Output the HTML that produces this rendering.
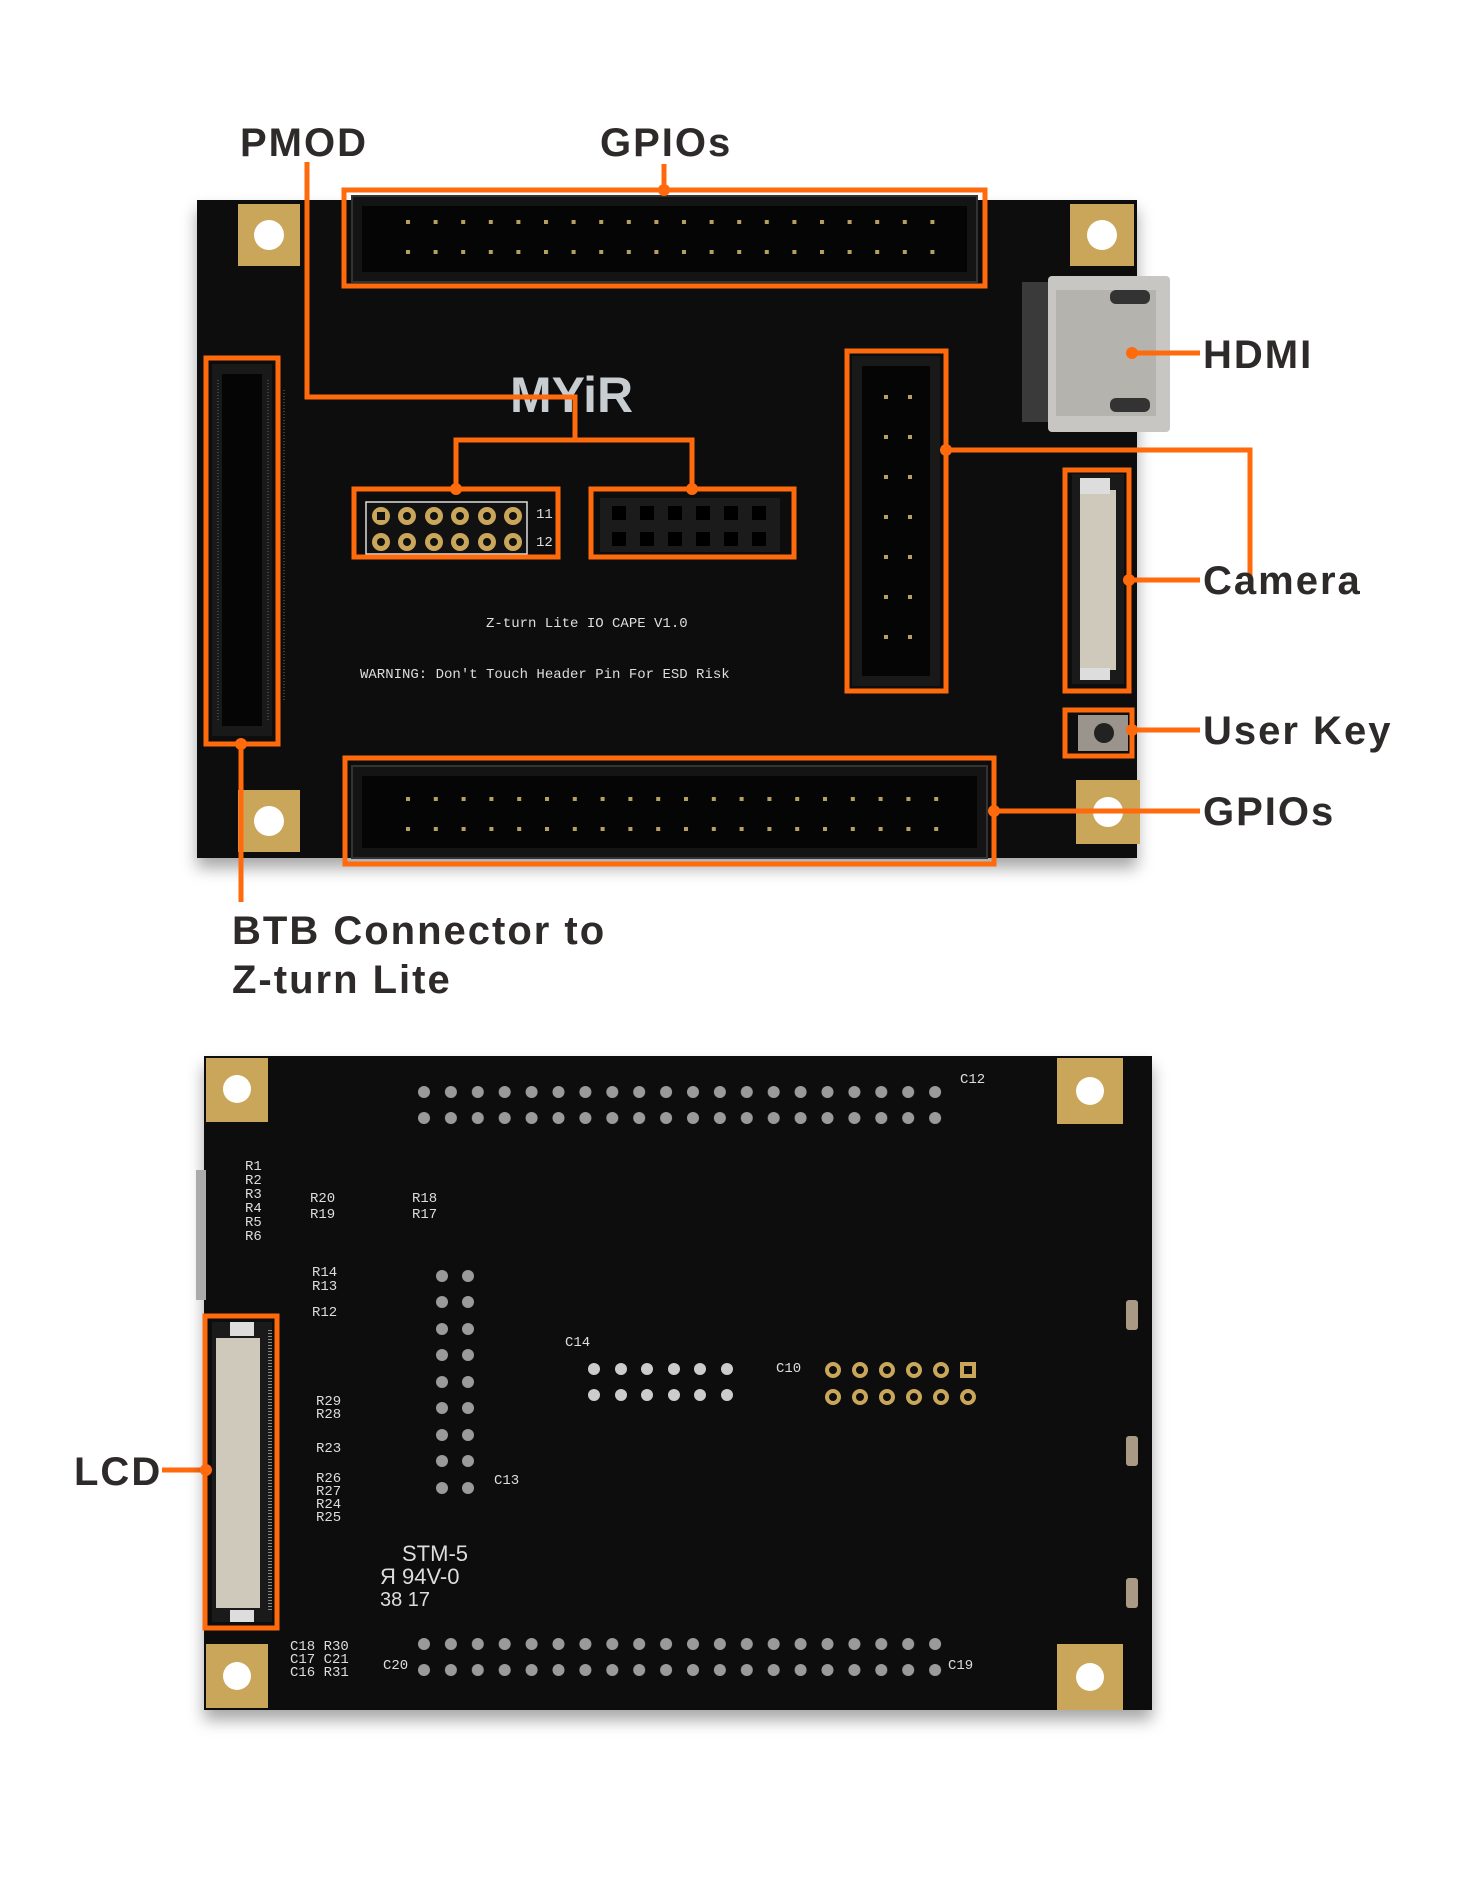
<!DOCTYPE html>
<html><head><meta charset="utf-8"><style>
html,body{margin:0;padding:0;background:#fff}
body{width:1464px;height:1889px;overflow:hidden}
svg{display:block}
.lbl{font-family:"Liberation Sans",sans-serif;font-weight:bold;font-size:40px;fill:#2e2a2a;letter-spacing:2px}
.sm{font-family:"Liberation Mono",monospace;fill:#ddd;font-size:14px}
</style></head><body>
<svg width="1464" height="1889" viewBox="0 0 1464 1889" xmlns="http://www.w3.org/2000/svg">
<defs>
<filter id="sh" x="-5%" y="-5%" width="110%" height="115%"><feDropShadow dx="0" dy="10" stdDeviation="8" flood-color="#000" flood-opacity="0.35"/></filter>
<pattern id="pinT" x="406" y="220" width="27.6" height="30" patternUnits="userSpaceOnUse"><rect x="0" y="0" width="4" height="4" fill="#b8a060"/></pattern>
<pattern id="pinB" x="406" y="797" width="27.8" height="30" patternUnits="userSpaceOnUse"><rect x="0" y="0" width="4" height="4" fill="#b8a060"/></pattern>
<pattern id="pinH1" x="418" y="1086" width="26.9" height="26" patternUnits="userSpaceOnUse"><circle cx="6" cy="6" r="6" fill="#9a9a9a"/></pattern>
<pattern id="pinH2" x="418" y="1638" width="26.9" height="26" patternUnits="userSpaceOnUse"><circle cx="6" cy="6" r="6" fill="#9a9a9a"/></pattern>
</defs>
<rect x="197" y="200" width="940" height="658" fill="#0c0b0b" filter="url(#sh)"/>
<g fill="#c9a65a">
<rect x="238" y="204" width="62" height="62"/><rect x="1070" y="204" width="64" height="62"/>
<rect x="238" y="790" width="62" height="62"/><rect x="1076" y="780" width="64" height="64"/>
</g>
<g fill="#fff">
<circle cx="269" cy="235" r="15"/><circle cx="1102" cy="235" r="15"/><circle cx="269" cy="821" r="15"/><circle cx="1108" cy="812" r="15"/>
</g>
<rect x="352" y="196" width="625" height="86" fill="#151414" stroke="#333" stroke-width="2"/>
<rect x="362" y="206" width="605" height="66" fill="#050505"/>
<rect x="406" y="220" width="530" height="36" fill="url(#pinT)"/>
<rect x="352" y="766" width="635" height="92" fill="#151414" stroke="#333" stroke-width="2"/>
<rect x="362" y="776" width="615" height="72" fill="#050505"/>
<rect x="406" y="797" width="535" height="36" fill="url(#pinB)"/>
<rect x="212" y="364" width="60" height="372" fill="#1a1919"/>
<rect x="222" y="374" width="40" height="352" fill="#050505"/>
<g stroke="#6a6a6a" stroke-width="1">
<line x1="218" y1="380" x2="218" y2="720" stroke-dasharray="1 2"/><line x1="268" y1="380" x2="268" y2="720" stroke-dasharray="1 2"/>
<line x1="284" y1="390" x2="284" y2="700" stroke-dasharray="1 2"/>
</g>
<rect x="852" y="356" width="88" height="330" fill="#1a1919"/>
<rect x="862" y="366" width="68" height="310" fill="#050505"/>
<g fill="#b8a060">
<rect x="884" y="395" width="4" height="4"/><rect x="908" y="395" width="4" height="4"/>
<rect x="884" y="435" width="4" height="4"/><rect x="908" y="435" width="4" height="4"/>
<rect x="884" y="475" width="4" height="4"/><rect x="908" y="475" width="4" height="4"/>
<rect x="884" y="515" width="4" height="4"/><rect x="908" y="515" width="4" height="4"/>
<rect x="884" y="555" width="4" height="4"/><rect x="908" y="555" width="4" height="4"/>
<rect x="884" y="595" width="4" height="4"/><rect x="908" y="595" width="4" height="4"/>
<rect x="884" y="635" width="4" height="4"/><rect x="908" y="635" width="4" height="4"/>
</g>
<rect x="1022" y="282" width="30" height="140" fill="#3a3a3a"/>
<rect x="1048" y="276" width="122" height="156" rx="4" fill="#c8c6c2"/>
<rect x="1056" y="290" width="100" height="126" fill="#b5b3ae"/>
<rect x="1110" y="290" width="40" height="14" rx="6" fill="#333"/><rect x="1110" y="398" width="40" height="14" rx="6" fill="#333"/>
<rect x="1072" y="474" width="52" height="210" fill="#1a1a1a"/>
<rect x="1080" y="490" width="36" height="180" fill="#cfc9bc"/>
<rect x="1080" y="478" width="30" height="16" fill="#ddd"/><rect x="1080" y="668" width="30" height="12" fill="#ddd"/>
<rect x="1078" y="715" width="50" height="36" fill="#9a948c"/><circle cx="1104" cy="733" r="10" fill="#222"/>
<rect x="366" y="502" width="161" height="52" fill="#111" stroke="#ddd" stroke-width="1.5"/>
<g fill="#c9a65a"><circle cx="381" cy="516" r="9"/><circle cx="407" cy="516" r="9"/><circle cx="434" cy="516" r="9"/><circle cx="460" cy="516" r="9"/><circle cx="487" cy="516" r="9"/><circle cx="513" cy="516" r="9"/>
<circle cx="381" cy="542" r="9"/><circle cx="407" cy="542" r="9"/><circle cx="434" cy="542" r="9"/><circle cx="460" cy="542" r="9"/><circle cx="487" cy="542" r="9"/><circle cx="513" cy="542" r="9"/></g>
<g fill="#111"><rect x="377" y="512" width="8" height="8"/><circle cx="407" cy="516" r="4"/><circle cx="434" cy="516" r="4"/><circle cx="460" cy="516" r="4"/><circle cx="487" cy="516" r="4"/><circle cx="513" cy="516" r="4"/>
<circle cx="381" cy="542" r="4"/><circle cx="407" cy="542" r="4"/><circle cx="434" cy="542" r="4"/><circle cx="460" cy="542" r="4"/><circle cx="487" cy="542" r="4"/><circle cx="513" cy="542" r="4"/></g>
<rect x="600" y="498" width="180" height="54" fill="#1c1b1b"/>
<g fill="#000"><rect x="612" y="506" width="14" height="14"/><rect x="640" y="506" width="14" height="14"/><rect x="668" y="506" width="14" height="14"/><rect x="696" y="506" width="14" height="14"/><rect x="724" y="506" width="14" height="14"/><rect x="752" y="506" width="14" height="14"/>
<rect x="612" y="532" width="14" height="14"/><rect x="640" y="532" width="14" height="14"/><rect x="668" y="532" width="14" height="14"/><rect x="696" y="532" width="14" height="14"/><rect x="724" y="532" width="14" height="14"/><rect x="752" y="532" width="14" height="14"/></g>
<text x="536" y="518" class="sm" font-size="11">11</text><text x="536" y="546" class="sm" font-size="11">12</text>
<text x="510" y="412" font-family="Liberation Sans,sans-serif" font-weight="bold" font-size="50" fill="#c7cdd0">MYiR</text>
<text x="486" y="627" class="sm" font-size="12">Z-turn Lite IO CAPE  V1.0</text>
<text x="360" y="678" class="sm" font-size="16">WARNING: Don't Touch Header Pin For ESD Risk</text>
<g fill="none" stroke="#ff6a0d" stroke-width="5">
<rect x="344" y="190" width="641" height="96"/>
<rect x="345" y="758" width="649" height="106"/>
<rect x="206" y="358" width="72" height="386"/>
<rect x="847" y="351" width="99" height="340"/>
<rect x="1065" y="470" width="64" height="221"/>
<rect x="1065" y="710" width="67" height="46"/>
<rect x="354" y="489" width="204" height="68"/>
<rect x="591" y="489" width="203" height="68"/>
<polyline points="307,162 307,397 575,397 575,440"/>
<polyline points="456,489 456,440 692,440 692,489"/>
<line x1="664" y1="164" x2="664" y2="190"/>
<line x1="241" y1="744" x2="241" y2="902"/>
<polyline points="946,450 1250,450 1250,576"/>
<line x1="1132" y1="353" x2="1200" y2="353"/>
<line x1="1129" y1="580" x2="1200" y2="580"/>
<line x1="1132" y1="730" x2="1200" y2="730"/>
<line x1="994" y1="811" x2="1200" y2="811"/>
<line x1="162" y1="1470" x2="206" y2="1470"/>
</g>
<g fill="#ff6a0d">
<circle cx="664" cy="190" r="6"/><circle cx="456" cy="489" r="6"/><circle cx="692" cy="489" r="6"/>
<circle cx="241" cy="744" r="6"/><circle cx="946" cy="450" r="6"/><circle cx="1132" cy="353" r="6"/>
<circle cx="1129" cy="580" r="6"/><circle cx="1132" cy="730" r="6"/><circle cx="994" cy="811" r="6"/><circle cx="206" cy="1470" r="6"/>
</g>
<text x="240" y="156" class="lbl">PMOD</text>
<text x="600" y="156" class="lbl">GPIOs</text>
<text x="1203" y="368" class="lbl">HDMI</text>
<text x="1203" y="594" class="lbl">Camera</text>
<text x="1203" y="744" class="lbl">User Key</text>
<text x="1203" y="825" class="lbl">GPIOs</text>
<text x="232" y="944" class="lbl">BTB Connector to</text>
<text x="232" y="993" class="lbl">Z-turn Lite</text>
<rect x="204" y="1056" width="948" height="654" fill="#0c0b0b" filter="url(#sh)"/>
<rect x="196" y="1170" width="10" height="130" fill="#aaa"/>
<g fill="#c9a65a">
<rect x="206" y="1058" width="62" height="64"/><rect x="1057" y="1058" width="66" height="66"/>
<rect x="206" y="1644" width="62" height="64"/><rect x="1057" y="1644" width="66" height="66"/>
</g>
<g fill="#fff"><circle cx="237" cy="1089" r="14"/><circle cx="1090" cy="1091" r="14"/><circle cx="237" cy="1676" r="14"/><circle cx="1090" cy="1677" r="14"/></g>
<rect x="418" y="1086" width="526" height="38" fill="url(#pinH1)"/>
<rect x="418" y="1638" width="526" height="38" fill="url(#pinH2)"/>
<g fill="#9a9a9a">
<circle cx="442" cy="1276" r="6"/><circle cx="468" cy="1276" r="6"/><circle cx="442" cy="1302" r="6"/><circle cx="468" cy="1302" r="6"/>
<circle cx="442" cy="1329" r="6"/><circle cx="468" cy="1329" r="6"/><circle cx="442" cy="1355" r="6"/><circle cx="468" cy="1355" r="6"/>
<circle cx="442" cy="1382" r="6"/><circle cx="468" cy="1382" r="6"/><circle cx="442" cy="1408" r="6"/><circle cx="468" cy="1408" r="6"/>
<circle cx="442" cy="1435" r="6"/><circle cx="468" cy="1435" r="6"/><circle cx="442" cy="1461" r="6"/><circle cx="468" cy="1461" r="6"/>
<circle cx="442" cy="1488" r="6"/><circle cx="468" cy="1488" r="6"/>
</g>
<g fill="#ccc">
<circle cx="594" cy="1369" r="6"/><circle cx="621" cy="1369" r="6"/><circle cx="647" cy="1369" r="6"/><circle cx="674" cy="1369" r="6"/><circle cx="700" cy="1369" r="6"/><circle cx="727" cy="1369" r="6"/>
<circle cx="594" cy="1395" r="6"/><circle cx="621" cy="1395" r="6"/><circle cx="647" cy="1395" r="6"/><circle cx="674" cy="1395" r="6"/><circle cx="700" cy="1395" r="6"/><circle cx="727" cy="1395" r="6"/>
</g>
<g fill="none" stroke="#c9a65a" stroke-width="4">
<circle cx="833" cy="1370" r="6"/><circle cx="860" cy="1370" r="6"/><circle cx="887" cy="1370" r="6"/><circle cx="914" cy="1370" r="6"/><circle cx="941" cy="1370" r="6"/><rect x="962" y="1364" width="12" height="12"/>
<circle cx="833" cy="1397" r="6"/><circle cx="860" cy="1397" r="6"/><circle cx="887" cy="1397" r="6"/><circle cx="914" cy="1397" r="6"/><circle cx="941" cy="1397" r="6"/><circle cx="968" cy="1397" r="6"/>
</g>
<g fill="#a89a84"><rect x="1126" y="1300" width="12" height="30" rx="3"/><rect x="1126" y="1436" width="12" height="30" rx="3"/><rect x="1126" y="1578" width="12" height="30" rx="3"/></g>
<rect x="212" y="1322" width="60" height="300" fill="#1a1a1a"/>
<rect x="216" y="1338" width="44" height="270" fill="#cfc9bc"/>
<rect x="230" y="1322" width="24" height="14" fill="#ddd"/><rect x="230" y="1610" width="24" height="12" fill="#ddd"/>
<line x1="270" y1="1330" x2="270" y2="1612" stroke="#888" stroke-width="4" stroke-dasharray="1 2"/>
<text x="402" y="1561" font-family="Liberation Sans,sans-serif" font-size="22" fill="#ddd">STM-5</text>
<text x="380" y="1584" font-family="Liberation Sans,sans-serif" font-size="22" fill="#ddd">Я 94V-0</text>
<text x="380" y="1606" font-family="Liberation Sans,sans-serif" font-size="20" fill="#ddd">38 17</text>
<g class="sm" font-size="11">
<text x="245" y="1170">R1</text><text x="245" y="1184">R2</text><text x="245" y="1198">R3</text><text x="245" y="1212">R4</text><text x="245" y="1226">R5</text><text x="245" y="1240">R6</text>
<text x="310" y="1202">R20</text><text x="310" y="1218">R19</text><text x="412" y="1202">R18</text><text x="412" y="1218">R17</text>
<text x="312" y="1276">R14</text><text x="312" y="1290">R13</text><text x="312" y="1316">R12</text>
<text x="316" y="1405">R29</text><text x="316" y="1418">R28</text><text x="316" y="1452">R23</text>
<text x="316" y="1482">R26</text><text x="316" y="1495">R27</text><text x="316" y="1508">R24</text><text x="316" y="1521">R25</text>
<text x="960" y="1083">C12</text><text x="565" y="1346">C14</text><text x="776" y="1372">C10</text><text x="494" y="1484">C13</text>
<text x="290" y="1650">C18 R30</text><text x="290" y="1663">C17 C21</text><text x="290" y="1676">C16 R31</text><text x="383" y="1669">C20</text><text x="948" y="1669">C19</text>
</g>
<rect x="205" y="1316" width="72" height="312" fill="none" stroke="#ff6a0d" stroke-width="5"/>
<circle cx="206" cy="1470" r="6" fill="#ff6a0d"/>
<text x="74" y="1485" class="lbl">LCD</text>
</svg>
</body></html>
